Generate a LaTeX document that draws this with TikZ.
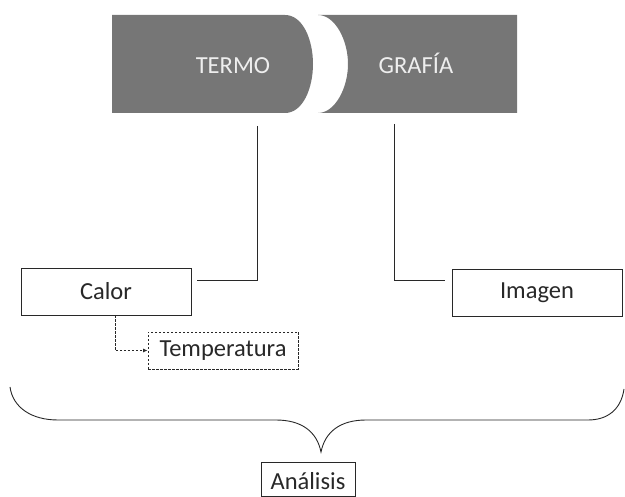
\documentclass[tikz,border=0pt]{standalone}
\usepackage{fontspec}
\setmainfont{Carlito}
\usepackage{tikz}
\usetikzlibrary{positioning,calc,arrows.meta}
\definecolor{banda}{RGB}{118,118,118}
\definecolor{bandatexto}{RGB}{238,238,238}
\definecolor{linea}{RGB}{40,40,40}

\begin{document}
\begin{tikzpicture}[x=1pt, y=-1pt, caja/.style={draw=linea, text=linea, line width=0.9pt, inner sep=0pt, minimum width=170pt, minimum height=47pt, font=\fontsize{24.5}{29}\selectfont}, cajapunteada/.style={caja, dash pattern=on 2.5pt off 1.5pt, minimum width=150pt, minimum height=37pt}, rotulo/.style={text=bandatexto, anchor=base, font=\fontsize{24.5}{29}\selectfont}, enlace/.style={draw=linea, line width=0.9pt}, flechita/.style={enlace, dash pattern=on 2.5pt off 1.5pt, -{Latex[length=4.5pt,width=4pt]}}]
\useasboundingbox (0,0) rectangle (625,497);
\fill[banda] (112,15) -- (285,15) .. controls (303,15) and (313,40) .. (313,64) .. controls (313,88) and (303,113) .. (285,113) -- (112,113) -- cycle;
\fill[banda] (318,15) -- (517,15) -- (517,113) -- (318,113) .. controls (335,113) and (348,88) .. (348,64) .. controls (348,40) and (335,15) .. (318,15) -- cycle;
\node[rotulo] (termo) at (233,74) {TERMO};
\node[rotulo] (grafia) at (416,74) {GRAFÍA};
\coordinate (pieTermo) at (257,126);
\coordinate (pieGrafia) at (394,124);
\node[caja] (calor) at (106,291.5) {Calor};
\node[caja] (imagen) at (537,292.5) {Imagen};
\node[cajapunteada] (temp) at (223,350.5) {Temperatura};
\node[caja, minimum width=94pt, minimum height=34pt, text height=22pt, text depth=0pt] (analisis) at (308,479) {Análisis};
\draw[enlace] (pieTermo) |- ([xshift=6pt,yshift=11.5pt]calor.east);
\draw[enlace] (pieGrafia) |- ([xshift=-7pt,yshift=12.5pt]imagen.west);
\draw[flechita] ([xshift=9pt]calor.south) |- (temp.west);
\coordinate (puntaLlave) at (321,452);
\draw[enlace] (10,387) .. controls (13,408) and (32,420) .. (58,420) -- (276,420) .. controls (302,420) and (317,432) .. (puntaLlave) .. controls (325,432) and (340,420) .. (366,420) -- (588,420) .. controls (607,420) and (621,410) .. (624,389);
\end{tikzpicture}
\end{document}
